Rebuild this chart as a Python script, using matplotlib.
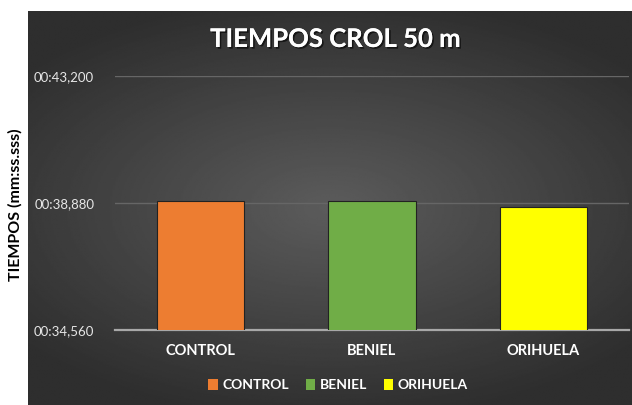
import numpy as np
import matplotlib
matplotlib.use('Agg')
import matplotlib.pyplot as plt
import matplotlib.patheffects as pe
from matplotlib.ticker import FuncFormatter
from matplotlib.patches import Patch

# Data (seconds)
grupos = ['CONTROL', 'BENIEL', 'ORIHUELA']
tiempos = [38.95, 38.94, 38.74]
colores = ['#ED7D31', '#70AD47', '#FFFF00']
ticks_y = [34.56, 38.88, 43.2]

plt.rcParams['font.family'] = ['Lato', 'DejaVu Sans']

W, H = 632, 405
fig = plt.figure(figsize=(W / 100, H / 100), dpi=100)
fig.patch.set_facecolor('white')

# dark panel with radial gradient
bg = fig.add_axes([28 / W, 0, (W - 28) / W, (H - 11) / H], zorder=0)
yy, xx = np.mgrid[-1:1:300j, -1:1:400j]
r = np.sqrt((xx * 0.9) ** 2 + (yy * 1.1) ** 2)
grad = np.clip(0.36 - 0.15 * r, 0.18, 0.36)
bg.imshow(grad, cmap='gray', vmin=0, vmax=1, aspect='auto', extent=[0, 1, 0, 1])
bg.set_axis_off()

ax = fig.add_axes([115 / W, (H - 330) / H, 514 / W, 254 / H], zorder=1)
ax.patch.set_alpha(0)

x = np.arange(len(grupos))
ax.bar(x, tiempos, width=0.51, color=colores, edgecolor='#222222', linewidth=0.8, zorder=3)
ax.set_xlim(-0.5, len(grupos) - 0.5)
ax.set_ylim(ticks_y[0], ticks_y[-1])
ax.set_yticks(ticks_y)


def fmt(v, pos):
    s = int(v)
    ms = int(round((v - s) * 1000))
    return '00:%02d,%03d' % (s, ms)


ax.yaxis.set_major_formatter(FuncFormatter(fmt))
ax.yaxis.grid(True, color='#666666', linewidth=1.0, zorder=0)
ax.set_axisbelow(True)
for s in ['top', 'right', 'left']:
    ax.spines[s].set_visible(False)
ax.spines['bottom'].set_color('#a8a8a8')
ax.spines['bottom'].set_linewidth(1.6)
ax.tick_params(axis='y', length=0, pad=15, labelsize=9.5, labelcolor='#e6e6e6')
ax.tick_params(axis='x', length=0, pad=10, labelsize=10.5, labelcolor='white')
ax.set_xticks(x)
ax.set_xticklabels(grupos, fontweight='bold')

fig.text(336 / W, (H - 39) / H, 'TIEMPOS CROL 50 m', ha='center', va='center',
         color='white', fontsize=18.5, fontweight='bold',
         path_effects=[pe.withSimplePatchShadow(offset=(1.2, -1.2), shadow_rgbFace='black', alpha=0.6),
                       pe.Normal()])
fig.text(15 / W, (H - 205) / H, 'TIEMPOS (mm:ss.sss)', ha='center', va='center',
         rotation=90, color='black', fontsize=11.5, fontweight='bold')

handles = [Patch(facecolor=c, edgecolor='none') for c in colores]
leg = fig.legend(handles, grupos, loc='center', bbox_to_anchor=(338 / W, (H - 385) / H),
                 ncol=3, frameon=False, handlelength=0.7, handleheight=0.9,
                 handletextpad=0.3, columnspacing=1.2,
                 prop={'weight': 'bold', 'size': 10})
for t in leg.get_texts():
    t.set_color('white')

fig.savefig('out.png', dpi=100, facecolor=fig.get_facecolor())
